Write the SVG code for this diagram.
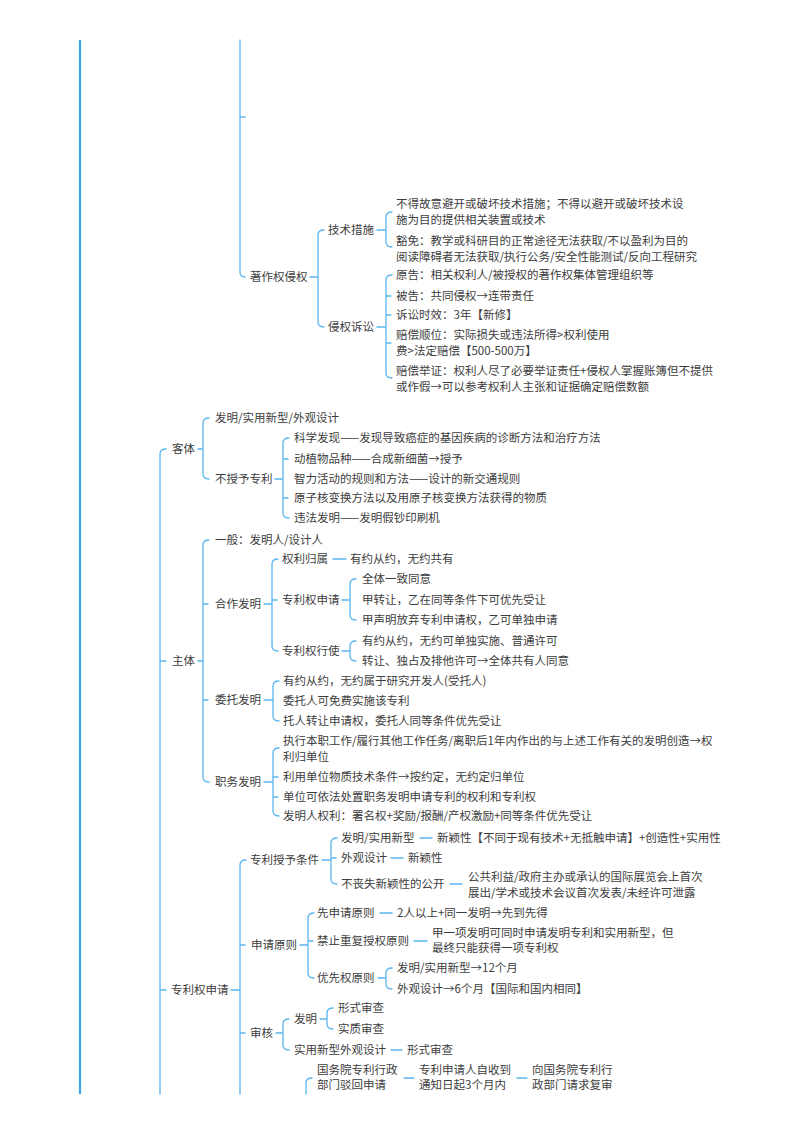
<svg xmlns="http://www.w3.org/2000/svg" width="800" height="1132" viewBox="0 0 800 1132">
<style>
.c{fill:none;stroke:#5ab6ee;stroke-width:1.3;stroke-linecap:round}
.m{fill:none;stroke:#3ea5ea;stroke-width:2.2}
text{font-family:"Noto Sans CJK SC","Liberation Sans",sans-serif;font-size:11.5px;fill:#3d3d3d}
</style>
<rect width="800" height="1132" fill="#ffffff"/>
<g id="connectors">
<path class="m" d="M80 40V1094"/>
<path class="c" d="M240 40V272Q240 277 245 277M240 117H245"/>
<path class="c" d="M310 277H318M324 230Q318 230 318 235V322Q318 327 324 327"/>
<path class="c" d="M377 230H386M392 212Q386 212 386 217V242Q386 247 392 247"/>
<path class="c" d="M377 327H386M392 275Q386 275 386 280V373Q386 378 392 378M386 296H391M386 315H391M386 343H391"/>
<path class="c" d="M166 449Q160 449 160 454V1094M160 661H166M160 990H166"/>
<path class="c" d="M198 449H203M209 418Q203 418 203 423V474Q203 479 209 479"/>
<path class="c" d="M275 479H283M289 438Q283 438 283 443V513Q283 518 289 518M283 459H288M283 498H288"/>
<path class="c" d="M198 661H203M209 540Q203 540 203 545V777Q203 782 209 782M203 604H208M203 700H208"/>
<path class="c" d="M264 604H272M278 559Q272 559 272 564V646Q272 651 278 651M272 600H277"/>
<path class="c" d="M333 559H346"/>
<path class="c" d="M342 600H350M356 579Q350 579 350 584V615Q350 620 356 620"/>
<path class="c" d="M342 651H350M356 641Q350 641 350 646V656Q350 661 356 661"/>
<path class="c" d="M264 700H273M279 681Q273 681 273 686V716Q273 721 279 721"/>
<path class="c" d="M264 782H273M279 748Q273 748 273 753V811Q273 816 279 816M273 777H278M273 797H278"/>
<path class="c" d="M231 990H240M246 860Q240 860 240 865V1094M240 945H245M240 1033H245"/>
<path class="c" d="M322 860H331M337 838Q331 838 331 843V879Q331 884 337 884M331 858H336"/>
<path class="c" d="M420 838H432M391 858H403M450 884H462"/>
<path class="c" d="M300 945H308M314 913Q308 913 308 918V973Q308 978 314 978M308 941H313"/>
<path class="c" d="M380 913H392M414 941H427"/>
<path class="c" d="M378 978H386M392 968Q386 968 386 973V984Q386 989 392 989"/>
<path class="c" d="M276 1033H283M289 1019Q283 1019 283 1024V1045Q283 1050 289 1050"/>
<path class="c" d="M320 1019H327M333 1008Q327 1008 327 1013V1024Q327 1029 333 1029"/>
<path class="c" d="M391 1050H402"/>
<path class="c" d="M312 1078Q306 1078 306 1083V1094M404 1078H414M517 1078H527"/>
</g>
<g id="n-zzqqq"><text x="250" y="281">著作权侵权</text></g>
<g id="n-jscs"><text x="328" y="234">技术措施</text></g>
<g id="n-jscs1"><text x="396" y="208">不得故意避开或破坏技术措施；不得以避开或破坏技术设</text><text x="396" y="224">施为目的提供相关装置或技术</text></g>
<g id="n-jscs2"><text x="396" y="245">豁免：教学或科研目的正常途径无法获取/不以盈利为目的</text><text x="396" y="261">阅读障碍者无法获取/执行公务/安全性能测试/反向工程研究</text></g>
<g id="n-qqss"><text x="328" y="331">侵权诉讼</text></g>
<g id="n-yg"><text x="396" y="279">原告：相关权利人/被授权的著作权集体管理组织等</text></g>
<g id="n-bg"><text x="396" y="300">被告：共同侵权→连带责任</text></g>
<g id="n-sssx"><text x="396" y="319">诉讼时效：3年【新修】</text></g>
<g id="n-pcsw"><text x="396" y="339">赔偿顺位：实际损失或违法所得&gt;权利使用</text><text x="396" y="355">费&gt;法定赔偿【500-500万】</text></g>
<g id="n-pcjz"><text x="396" y="375">赔偿举证：权利人尽了必要举证责任+侵权人掌握账簿但不提供</text><text x="396" y="391">或作假→可以参考权利人主张和证据确定赔偿数额</text></g>
<g id="n-kt"><text x="172" y="453">客体</text></g>
<g id="n-kt1"><text x="215" y="422">发明/实用新型/外观设计</text></g>
<g id="n-bsyzl"><text x="215" y="483">不授予专利</text></g>
<g id="n-b1"><text x="294" y="442">科学发现——发现导致癌症的基因疾病的诊断方法和治疗方法</text></g>
<g id="n-b2"><text x="294" y="463">动植物品种——合成新细菌→授予</text></g>
<g id="n-b3"><text x="294" y="483">智力活动的规则和方法——设计的新交通规则</text></g>
<g id="n-b4"><text x="294" y="502">原子核变换方法以及用原子核变换方法获得的物质</text></g>
<g id="n-b5"><text x="294" y="522">违法发明——发明假钞印刷机</text></g>
<g id="n-zt"><text x="172" y="665">主体</text></g>
<g id="n-yb"><text x="215" y="544">一般：发明人/设计人</text></g>
<g id="n-hzfm"><text x="215" y="608">合作发明</text></g>
<g id="n-qlgs"><text x="282" y="563">权利归属</text></g>
<g id="n-qlgs1"><text x="350" y="563">有约从约，无约共有</text></g>
<g id="n-zlqsq"><text x="282" y="604">专利权申请</text></g>
<g id="n-s1"><text x="362" y="583">全体一致同意</text></g>
<g id="n-s2"><text x="362" y="604">甲转让，乙在同等条件下可优先受让</text></g>
<g id="n-s3"><text x="362" y="624">甲声明放弃专利申请权，乙可单独申请</text></g>
<g id="n-zlqxs"><text x="282" y="655">专利权行使</text></g>
<g id="n-x1"><text x="362" y="645">有约从约，无约可单独实施、普通许可</text></g>
<g id="n-x2"><text x="362" y="665">转让、独占及排他许可→全体共有人同意</text></g>
<g id="n-wtfm"><text x="215" y="704">委托发明</text></g>
<g id="n-w1"><text x="283" y="685">有约从约，无约属于研究开发人(受托人)</text></g>
<g id="n-w2"><text x="283" y="705">委托人可免费实施该专利</text></g>
<g id="n-w3"><text x="283" y="725">托人转让申请权，委托人同等条件优先受让</text></g>
<g id="n-zwfm"><text x="215" y="786">职务发明</text></g>
<g id="n-z1"><text x="283" y="745">执行本职工作/履行其他工作任务/离职后1年内作出的与上述工作有关的发明创造→权</text><text x="283" y="761">利归单位</text></g>
<g id="n-z2"><text x="283" y="781">利用单位物质技术条件→按约定，无约定归单位</text></g>
<g id="n-z3"><text x="283" y="801">单位可依法处置职务发明申请专利的权利和专利权</text></g>
<g id="n-z4"><text x="283" y="820">发明人权利：署名权+奖励/报酬/产权激励+同等条件优先受让</text></g>
<g id="n-zlqsq2"><text x="171" y="994">专利权申请</text></g>
<g id="n-zlsytj"><text x="250" y="864">专利授予条件</text></g>
<g id="n-t1"><text x="341" y="842">发明/实用新型</text></g>
<g id="n-t1a"><text x="437" y="842">新颖性【不同于现有技术+无抵触申请】+创造性+实用性</text></g>
<g id="n-t2"><text x="341" y="862">外观设计</text></g>
<g id="n-t2a"><text x="408" y="862">新颖性</text></g>
<g id="n-t3"><text x="341" y="888">不丧失新颖性的公开</text></g>
<g id="n-t3a"><text x="468" y="881">公共利益/政府主办或承认的国际展览会上首次</text><text x="468" y="897">展出/学术或技术会议首次发表/未经许可泄露</text></g>
<g id="n-sqyz"><text x="251" y="949">申请原则</text></g>
<g id="n-p1"><text x="317" y="917">先申请原则</text></g>
<g id="n-p1a"><text x="397" y="917">2人以上+同一发明→先到先得</text></g>
<g id="n-p2"><text x="317" y="945">禁止重复授权原则</text></g>
<g id="n-p2a"><text x="432" y="937">甲一项发明可同时申请发明专利和实用新型，但</text><text x="432" y="952">最终只能获得一项专利权</text></g>
<g id="n-p3"><text x="317" y="982">优先权原则</text></g>
<g id="n-p3a"><text x="397" y="972">发明/实用新型→12个月</text></g>
<g id="n-p3b"><text x="397" y="993">外观设计→6个月【国际和国内相同】</text></g>
<g id="n-sh"><text x="250" y="1037">审核</text></g>
<g id="n-shfm"><text x="294" y="1023">发明</text></g>
<g id="n-h1"><text x="338" y="1012">形式审查</text></g>
<g id="n-h2"><text x="338" y="1033">实质审查</text></g>
<g id="n-h3"><text x="294" y="1054">实用新型外观设计</text></g>
<g id="n-h3a"><text x="407" y="1054">形式审查</text></g>
<g id="n-r1"><text x="317" y="1074">国务院专利行政</text><text x="317" y="1089">部门驳回申请</text></g>
<g id="n-r2"><text x="419" y="1074">专利申请人自收到</text><text x="419" y="1089">通知日起3个月内</text></g>
<g id="n-r3"><text x="532" y="1074">向国务院专利行</text><text x="532" y="1089">政部门请求复审</text></g>
</svg>
